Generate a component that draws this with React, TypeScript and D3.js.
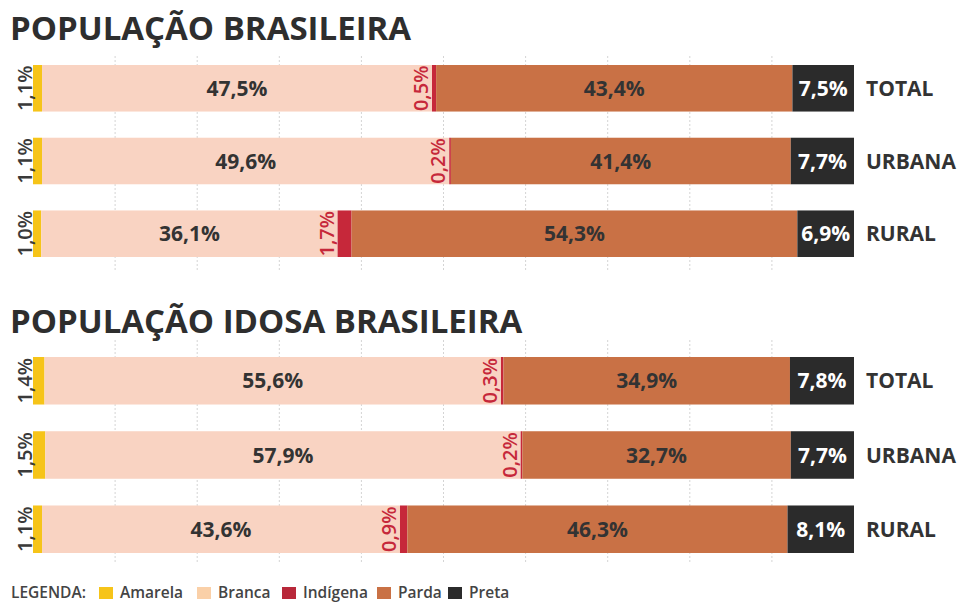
import React from "react";
import * as d3 from "d3";

const categories = ["Amarela", "Branca", "Indígena", "Parda", "Preta"];
const colors = ["#f6c419", "#f9d3c2", "#c6283a", "#c97145", "#2b2b2b"];
const legendColors = ["#f6c419", "#fad0a8", "#b8283a", "#c97145", "#2b2b2b"];
const rowLabels = ["TOTAL", "URBANA", "RURAL"];
const geralValues = [
  [1.1, 47.5, 0.5, 43.4, 7.5],
  [1.1, 49.6, 0.2, 41.4, 7.7],
  [1.0, 36.1, 1.7, 54.3, 6.9],
];
const idosaValues = [
  [1.4, 55.6, 0.3, 34.9, 7.8],
  [1.5, 57.9, 0.2, 32.7, 7.7],
  [1.1, 43.6, 0.9, 46.3, 8.1],
];
const gridTicks = [10, 20, 30, 40, 50, 60, 70, 80, 90];

const W = 964;
const H = 605;
const FONT = "'Open Sans', 'DejaVu Sans', sans-serif";
const fmt = (v: number) => v.toFixed(1).replace(".", ",") + "%";

const x = d3.scaleLinear().domain([0, 100]).range([33, 854]);

type SectionProps = {
  title: string;
  titleY: number;
  values: number[][];
  yRange: [number, number];
  gridRange: [number, number];
};

function Section({ title, titleY, values, yRange, gridRange }: SectionProps) {
  const y = d3.scaleBand<string>().domain(rowLabels).range(yRange).paddingInner(0.36).paddingOuter(0);
  const stacked = values.map((row) => {
    let acc = 0;
    return row.map((v) => {
      const s = acc;
      acc += v;
      return [s, acc];
    });
  });
  const mid = (ri: number, ci: number) => (x(stacked[ri][ci][0]) + x(stacked[ri][ci][1])) / 2;
  return (
    <g>
      <text x={10} y={titleY} fontFamily={FONT} fontWeight={700} fontSize={33} fill="#2e2e2e">
        {title}
      </text>
      {gridTicks.map((t) => (
        <line key={t} x1={x(t)} x2={x(t)} y1={gridRange[0]} y2={gridRange[1]} stroke="#d4d4d4" strokeWidth={1} strokeDasharray="2,2" />
      ))}
      {rowLabels.map((lab, ri) => {
        const y0 = y(lab) as number;
        const bh = y.bandwidth();
        const cy = y0 + bh / 2;
        return (
          <g key={lab}>
            {stacked[ri].map(([s, e], ci) => (
              <rect key={ci} x={x(s)} y={y0} width={Math.max(x(e) - x(s), 1.5)} height={bh} fill={colors[ci]} />
            ))}
            {/* amarela: rotated, left of the bar */}
            <text
              transform={`translate(${x(0) - 1},${cy}) rotate(-90)`}
              textAnchor="middle"
              fontFamily={FONT}
              fontWeight={600}
              fontSize={20}
              fill="#3a3a3a"
            >
              {fmt(values[ri][0])}
            </text>
            <text x={mid(ri, 1)} y={cy} dy="0.36em" textAnchor="middle" fontFamily={FONT} fontWeight={700} fontSize={21} fill="#333">
              {fmt(values[ri][1])}
            </text>
            {/* indigena: rotated, left of its segment */}
            <text
              transform={`translate(${x(stacked[ri][2][0]) - 4},${cy}) rotate(-90)`}
              textAnchor="middle"
              fontFamily={FONT}
              fontWeight={600}
              fontSize={20}
              fill={colors[2]}
            >
              {fmt(values[ri][2])}
            </text>
            <text x={mid(ri, 3)} y={cy} dy="0.36em" textAnchor="middle" fontFamily={FONT} fontWeight={700} fontSize={21} fill="#333">
              {fmt(values[ri][3])}
            </text>
            <text x={mid(ri, 4)} y={cy} dy="0.36em" textAnchor="middle" fontFamily={FONT} fontWeight={700} fontSize={21} fill="#fff">
              {fmt(values[ri][4])}
            </text>
            <text x={866} y={cy} dy="0.36em" fontFamily={FONT} fontWeight={700} fontSize={21} fill="#333">
              {lab}
            </text>
          </g>
        );
      })}
    </g>
  );
}

function Legend() {
  const swatchX = [99, 197, 282, 377, 448];
  return (
    <g fontFamily={FONT} fontWeight={600} fontSize={15.5} fill="#444">
      <text x={11} y={598}>LEGENDA:</text>
      {categories.map((c, i) => (
        <g key={c}>
          <rect x={swatchX[i]} y={587} width={14} height={12} fill={legendColors[i]} />
          <text x={swatchX[i] + 21} y={598}>{c}</text>
        </g>
      ))}
    </g>
  );
}

export default function App() {
  return (
    <svg width={W} height={H} style={{ position: "absolute", left: 0, top: 0, background: "#fff" }}>
      <rect width={W} height={H} fill="#fff" />
      <Section title="POPULAÇÃO BRASILEIRA" titleY={40} values={geralValues} yRange={[65, 257]} gridRange={[56, 270]} />
      <Section title="POPULAÇÃO IDOSA BRASILEIRA" titleY={333} values={idosaValues} yRange={[357, 553]} gridRange={[340, 562]} />
      <Legend />
    </svg>
  );
}
